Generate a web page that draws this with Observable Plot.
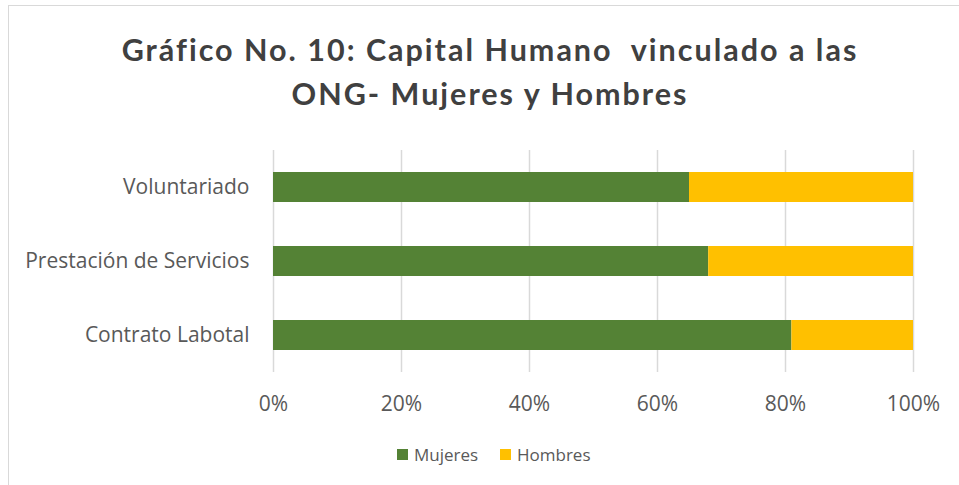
<!DOCTYPE html>
<html>
<head>
<meta charset="utf-8">
<script src="https://cdn.jsdelivr.net/npm/d3@7"></script>
<script src="https://cdn.jsdelivr.net/npm/@observablehq/plot@0.6"></script>
<style>
  html, body { margin: 0; padding: 0; background: #fff; }
  #frame { position: relative; width: 959px; height: 485px; overflow: hidden; background: #fff; }
  #border { position: absolute; left: 8px; top: 5px; width: 960px; height: 490px; border: 1.5px solid #d9d9d9; box-sizing: border-box; }
  #title { position: absolute; left: 0; top: 26.5px; width: 980px; text-align: center; font-family: Lato, sans-serif; font-weight: bold; font-size: 30.5px; letter-spacing: 2px; line-height: 44.5px; color: #404040; white-space: pre; }
  #chart { position: absolute; left: 0; top: 130px; }
  #legend { position: absolute; left: 0; top: 443px; width: 959px; font-family: "Open Sans", sans-serif; font-size: 17px; color: #595959; }
  .item { position: absolute; top: 0; display: flex; align-items: center; height: 22px; }
  .sw { width: 11px; height: 11px; margin-right: 6px; }
</style>
</head>
<body>
<div id="frame">
  <div id="border"></div>
  <div id="title"></div>
  <div id="chart"></div>
  <div id="legend"></div>
</div>
<script>
const titleLines = ["Gráfico No. 10: Capital Humano  vinculado a las", "ONG- Mujeres y Hombres"];
const categories = ["Voluntariado", "Prestación de Servicios", "Contrato Labotal"];
const mujeres = [65, 68, 81];
const hombres = [35, 32, 19];
const seriesNames = ["Mujeres", "Hombres"];
const seriesColors = ["#548235", "#FFC000"];
const xTicks = [0, 20, 40, 60, 80, 100];

document.getElementById("title").textContent = titleLines.join("\n");

const rows = [];
categories.forEach((c, i) => {
  rows.push({category: c, series: seriesNames[0], value: mujeres[i]});
  rows.push({category: c, series: seriesNames[1], value: hombres[i]});
});

const chart = Plot.plot({
  width: 959,
  height: 310,
  marginLeft: 273,
  marginRight: 46,
  marginTop: 20,
  marginBottom: 68,
  style: {fontFamily: "'Open Sans', sans-serif", fontSize: "21px", color: "#595959", background: "transparent"},
  x: {domain: [0, 100], ticks: xTicks, tickFormat: d => d + "%", tickSize: 0, tickPadding: 24, label: null},
  y: {domain: categories, paddingInner: 0.6, paddingOuter: 0.3, tickSize: 0, tickPadding: 24, label: null},
  color: {domain: seriesNames, range: seriesColors},
  marks: [
    Plot.gridX(xTicks, {stroke: "#d9d9d9", strokeOpacity: 1, strokeWidth: 1.5}),
    Plot.barX(rows, Plot.stackX({y: "category", x: "value", fill: "series", order: seriesNames})),
    Plot.axisX({ticks: xTicks, tickFormat: d => d + "%", tickSize: 0, tickPadding: 24, fill: "#595959", fontSize: 21}),
    Plot.axisY({tickSize: 0, tickPadding: 24, fill: "#595959", fontSize: 21})
  ]
});
document.getElementById("chart").appendChild(chart);

const legend = document.getElementById("legend");
const lx = [397, 500];
seriesNames.forEach((s, i) => {
  const it = document.createElement("div");
  it.className = "item";
  it.style.left = lx[i] + "px";
  const sw = document.createElement("div");
  sw.className = "sw";
  sw.style.background = seriesColors[i];
  const t = document.createElement("span");
  t.textContent = s;
  it.appendChild(sw); it.appendChild(t);
  legend.appendChild(it);
});
</script>
</body>
</html>
